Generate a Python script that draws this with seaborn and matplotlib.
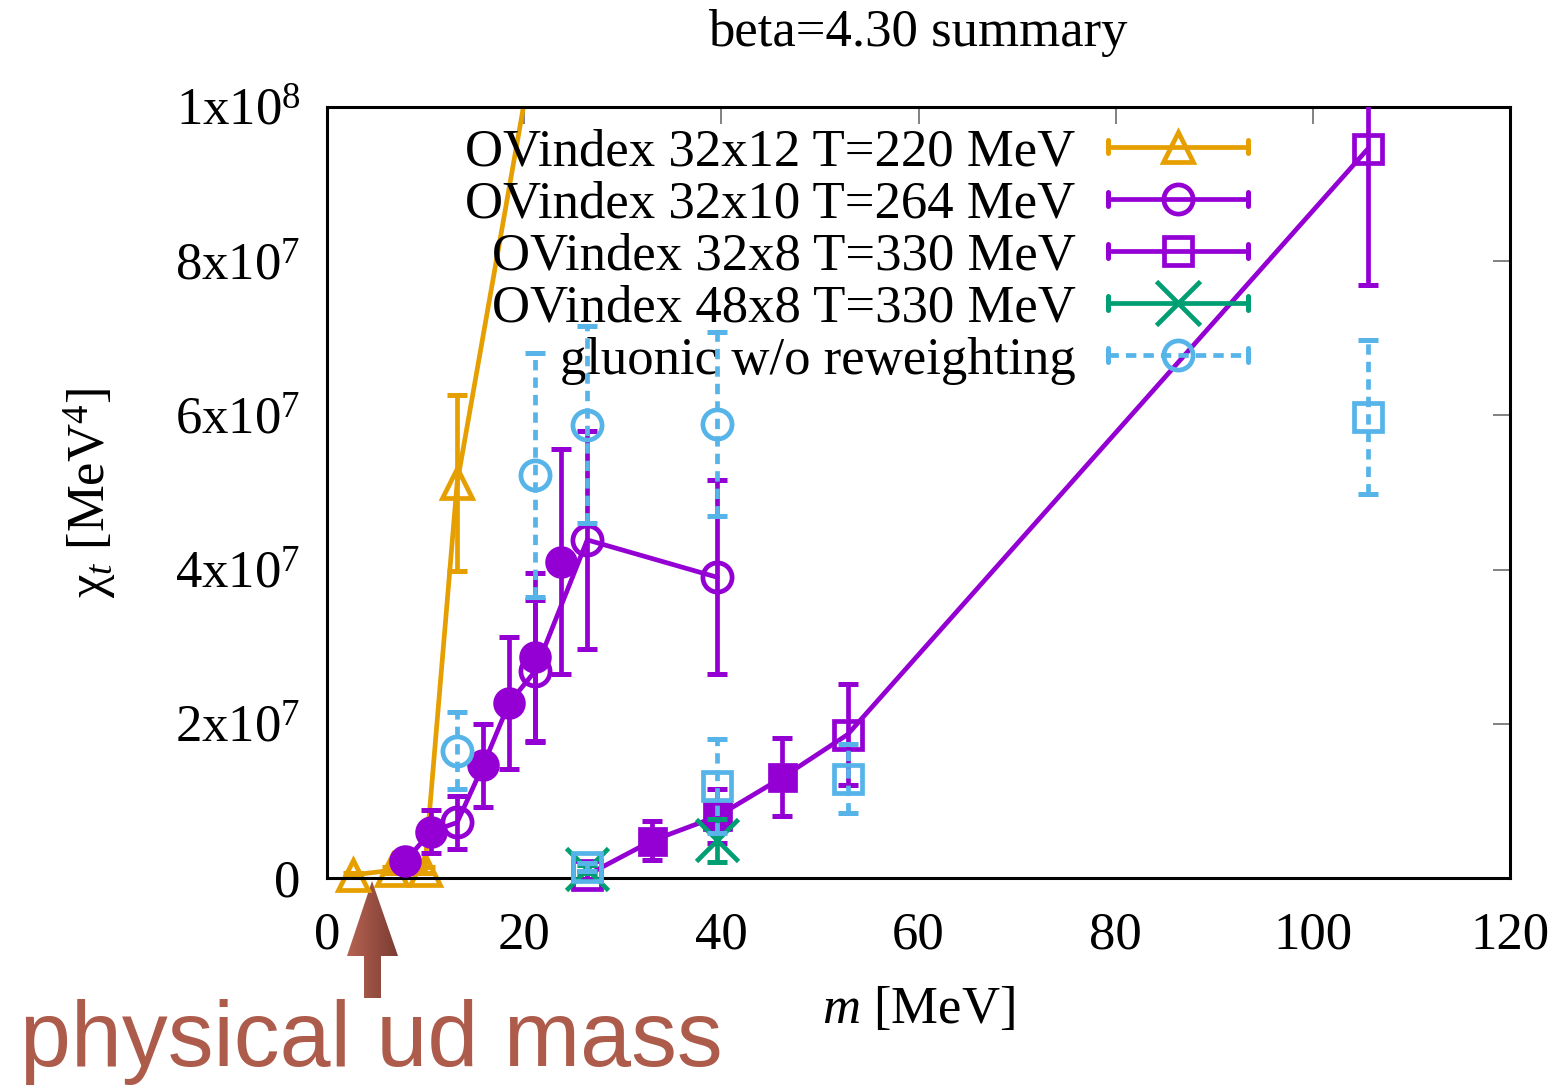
import numpy as np
import pandas as pd
import matplotlib
matplotlib.use("Agg")
import matplotlib.pyplot as plt
import seaborn as sns
from matplotlib.lines import Line2D
from matplotlib.legend_handler import HandlerBase
from matplotlib.transforms import Bbox, TransformedBbox
from matplotlib.patches import Polygon
from matplotlib.colors import LinearSegmentedColormap

# ---------------- data ----------------
# OVindex 32x12, T=220 MeV
m_220 = [2.64, 6.6, 9.9, 13.2, 26.4]
chi_220 = [0.04e7, 0.10e7, 0.10e7, 5.12e7, 14.7e7]
err_220 = [0.03e7, 0.04e7, 0.04e7, 1.14e7, 1.5e7]

# OVindex 32x10, T=264 MeV (open circles)
m_264 = [13.2, 21.12, 26.4, 39.6]
chi_264 = [0.72e7, 2.685e7, 4.385e7, 3.90e7]
err_264 = [0.34e7, 0.915e7, 1.415e7, 1.26e7]
# 32x10 reweighted points (filled circles)
m_264f = [7.92, 10.56, 15.84, 18.48, 21.12, 23.76]
chi_264f = [0.22e7, 0.60e7, 1.46e7, 2.27e7, 2.87e7, 4.10e7]
err_264f = [0.04e7, 0.28e7, 0.54e7, 0.86e7, 1.09e7, 1.46e7]
on_line_264f = [True, True, True, True, False, False]

# OVindex 32x8, T=330 MeV (open squares)
m_330 = [26.4, 52.8, 105.6]
chi_330 = [0.04e7, 1.86e7, 9.46e7]
err_330 = [0.05e7, 0.65e7, 1.77e7]
# 32x8 reweighted points (filled squares)
m_330f = [33.0, 39.6, 46.2]
chi_330f = [0.485e7, 0.80e7, 1.305e7]
err_330f = [0.255e7, 0.35e7, 0.505e7]

# OVindex 48x8, T=330 MeV
m_48 = [26.4, 39.6]
chi_48 = [0.12e7, 0.49e7]
err_48 = [0.05e7, 0.28e7]

# gluonic w/o reweighting (32x10 circles, 32x8 squares)
m_gc = [13.2, 21.12, 26.4, 39.6]
chi_gc = [1.65e7, 5.23e7, 5.88e7, 5.89e7]
err_gc = [0.50e7, 1.58e7, 1.28e7, 1.19e7]
m_gs = [26.4, 39.6, 52.8, 105.6]
chi_gs = [0.14e7, 1.19e7, 1.29e7, 5.98e7]
err_gs = [0.05e7, 0.61e7, 0.45e7, 1.00e7]

labels = ["OVindex 32x12 T=220 MeV", "OVindex 32x10 T=264 MeV",
          "OVindex 32x8 T=330 MeV", "OVindex 48x8 T=330 MeV",
          "gluonic w/o reweighting"]
xticks = [0, 20, 40, 60, 80, 100, 120]
yticks = [0, 2e7, 4e7, 6e7, 8e7, 1e8]
ytick_labels = ["0", "2x10$^{7}$", "4x10$^{7}$", "6x10$^{7}$", "8x10$^{7}$", "1x10$^{8}$"]

ORANGE, PURPLE, GREEN, BLUE = "#e69f00", "#9400d3", "#009e73", "#56b4e9"

# ---------------- style ----------------
sns.set_theme(style="white")
plt.rcParams["font.family"] = ["Liberation Serif", "DejaVu Serif"]
plt.rcParams["text.color"] = "black"
plt.rcParams["axes.labelcolor"] = "black"
plt.rcParams["xtick.color"] = "black"
plt.rcParams["ytick.color"] = "black"
plt.rcParams["mathtext.fontset"] = "custom"
plt.rcParams["mathtext.rm"] = "Liberation Serif"
plt.rcParams["mathtext.it"] = "Liberation Serif:italic"
FS = 38
LW = 3.4
MEW = 3.4
MS = 21
DASH = (0, (2.2, 1.5))

W, H = 1564, 1086
fig = plt.figure(figsize=(W / 100, H / 100), dpi=100)

# overlay canvas (pixel coordinates) for the annotation arrow and caption
ov = fig.add_axes([0, 0, 1, 1])
ov.set_xlim(0, W)
ov.set_ylim(H, 0)
ov.axis("off")
ov.patch.set_visible(False)

ax = fig.add_axes([327 / W, 1 - 878 / H, (1510 - 327) / W, (878 - 107) / H])
ax.patch.set_visible(False)

# markers may spill slightly below the frame, but not above it
marker_clip = TransformedBbox(Bbox([[-0.05, -0.08], [1.05, 1.0]]), ax.transAxes)


def draw_line(m, chi, color, z):
    sns.lineplot(x=list(m), y=list(chi), sort=False, estimator=None, color=color,
                 lw=LW, ax=ax, zorder=z, legend=False)


def draw_points(m, chi, err, color, marker, ms, filled, z, dashed=False):
    eb = ax.errorbar(m, chi, yerr=err, fmt="none", ecolor=color, elinewidth=LW,
                     capsize=7, capthick=3.6, zorder=z)
    if dashed:
        for lc in eb[2]:
            lc.set_linestyle(DASH)
    pts, = ax.plot(m, chi, ls="none", marker=marker, ms=ms, mew=MEW, mec=color,
                   mfc=color if filled else "none", zorder=z + 0.1)
    pts.set_clip_box(marker_clip)


# 32x12, T=220
draw_line(m_220, chi_220, ORANGE, 2)
draw_points(m_220, chi_220, err_220, ORANGE, "^", MS, False, 2)

# 32x10, T=264
line264 = pd.concat([
    pd.DataFrame({"m": m_264, "chi": chi_264}),
    pd.DataFrame({"m": m_264f, "chi": chi_264f})[on_line_264f],
]).sort_values("m")
draw_line(line264["m"], line264["chi"], PURPLE, 3)
draw_points(m_264, chi_264, err_264, PURPLE, "o", MS, False, 3)
draw_points(m_264f, chi_264f, err_264f, PURPLE, "o", MS - 1, True, 3.5)

# 32x8, T=330
line330 = pd.concat([
    pd.DataFrame({"m": m_330, "chi": chi_330}),
    pd.DataFrame({"m": m_330f, "chi": chi_330f}),
]).sort_values("m")
draw_line(line330["m"], line330["chi"], PURPLE, 4)
draw_points(m_330, chi_330, err_330, PURPLE, "s", MS - 1, False, 4)
draw_points(m_330f, chi_330f, err_330f, PURPLE, "s", MS - 3, True, 4.5)

# 48x8, T=330
draw_points(m_48, chi_48, err_48, GREEN, "x", 30, False, 5)

# gluonic
draw_points(m_gc, chi_gc, err_gc, BLUE, "o", MS, False, 6, dashed=True)
draw_points(m_gs, chi_gs, err_gs, BLUE, "s", MS - 1, False, 6, dashed=True)

# ---------------- axes ----------------
ax.set_xlim(0, 120)
ax.set_ylim(0, 1e8)
ax.set_xticks(xticks)
ax.set_xticklabels([str(t) for t in xticks])
ax.set_yticks(yticks)
ax.set_yticklabels(ytick_labels)
ax.set_xlabel("")
ax.set_ylabel("")
ax.tick_params(axis="both", which="both", direction="in", length=12, width=1.3,
               color="#777777", labelcolor="black", labelsize=FS, top=True, right=True)
ax.tick_params(axis="y", pad=19)
ax.tick_params(axis="x", pad=24)
for sp in ax.spines.values():
    sp.set_visible(True)
    sp.set_color("black")
    sp.set_linewidth(2.2)

fig.text(918 / W, 1 - 33 / H, "beta=4.30 summary", ha="center", va="center",
         fontsize=FS, color="black")
fig.text(918 / W, 1 - 1010 / H, r"$m$ [MeV]", ha="center", va="center",
         fontsize=FS, color="black")
fig.text(90 / W, 1 - 493 / H, r"χ$_t$ [MeV$^4$]", ha="center", va="center",
         rotation=90, fontsize=FS, color="black")


# ---------------- key ----------------
class KeyHandler(HandlerBase):
    def __init__(self, dashed=False):
        super().__init__()
        self.dashed = dashed

    def create_artists(self, legend, orig, xd, yd, width, height, fontsize, trans):
        y = height / 2 - yd
        x0, x1 = -xd, -xd + width
        c = orig.get_color()
        base = Line2D([x0, x1], [y, y], color=c, lw=LW,
                      ls=DASH if self.dashed else "-")
        caps = Line2D([x0, x0, np.nan, x1, x1], [y - 5, y + 5, np.nan, y - 5, y + 5],
                      color=c, lw=3.6)
        mk = Line2D([(x0 + x1) / 2], [y], ls="none", marker=orig.get_marker(),
                    ms=orig.get_markersize(), mew=MEW, mec=c, mfc="none")
        arts = [base, caps, mk]
        for a in arts:
            a.set_transform(trans)
        return arts


proxies = [
    Line2D([], [], color=ORANGE, marker="^", ms=MS),
    Line2D([], [], color=PURPLE, marker="o", ms=MS),
    Line2D([], [], color=PURPLE, marker="s", ms=MS - 1),
    Line2D([], [], color=GREEN, marker="x", ms=31),
    Line2D([], [], color=BLUE, marker="o", ms=MS),
]
hmap = {p: KeyHandler(dashed=(i == 4)) for i, p in enumerate(proxies)}
leg = ax.legend(handles=proxies, labels=labels, handler_map=hmap, loc="upper right",
                bbox_to_anchor=((1248 - 327) / (1510 - 327), (878 - 128) / (878 - 107)),
                frameon=False, markerfirst=False, fontsize=FS, handlelength=2.65,
                handletextpad=0.62, labelspacing=0.08, borderpad=0, borderaxespad=0)
for t in leg.get_texts():
    t.set_color("black")

# ---------------- physical mass marker ----------------
arrow = Polygon([(372, 881), (398, 956), (381, 956), (381, 998), (364, 998),
                 (364, 956), (347, 956)], closed=True, facecolor="none", edgecolor="none")
ov.add_patch(arrow)
grad = np.linspace(0, 1, 256).reshape(1, -1)
im = ov.imshow(grad, cmap=LinearSegmentedColormap.from_list("arrow", ["#b66452", "#7b3c33"]),
               extent=(347, 398, 998, 881), aspect="auto", interpolation="bilinear")
im.set_clip_path(arrow)
ov.set_xlim(0, W)
ov.set_ylim(H, 0)
ov.text(20, 1066, "physical ud mass", fontsize=66, family="Liberation Sans",
        fontweight="light", color="#ad5b4b", ha="left", va="baseline")

fig.savefig("out.png", dpi=100)
